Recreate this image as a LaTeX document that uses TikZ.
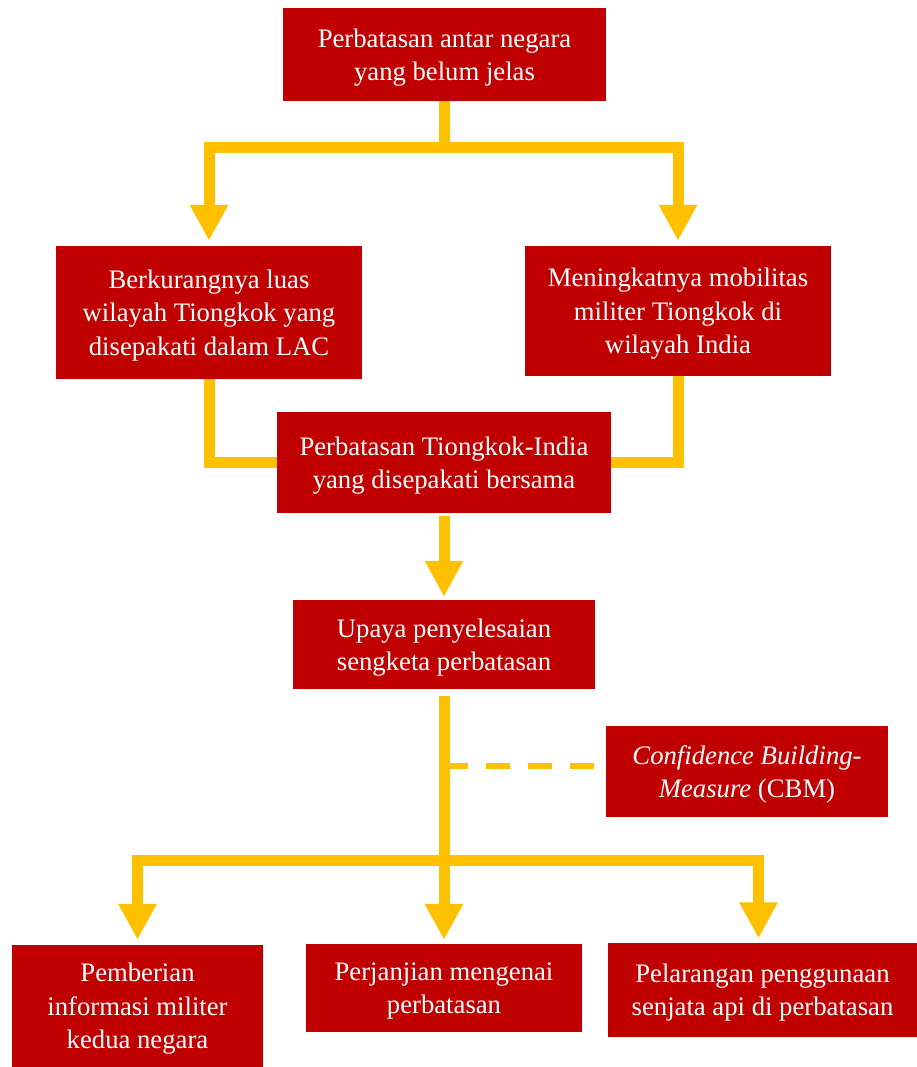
\documentclass[tikz,border=0pt]{standalone}
\usepackage{fontspec}
\setmainfont{Liberation Serif}
\usepackage{tikz}
\usetikzlibrary{arrows.meta}
\definecolor{boxred}{HTML}{C00000}
\definecolor{linkyellow}{HTML}{FFC000}
\tikzstyle{block} = [rectangle, fill=boxred, text=white, align=center, inner sep=0pt, text depth=0pt]
\tikzstyle{link} = [draw=linkyellow, line width=11pt]
\tikzstyle{arrow} = [link, -{Triangle[width=36pt,length=36pt]}]
\tikzstyle{dashlink} = [draw=linkyellow, line width=5.5pt, dash pattern=on 24pt off 18pt]

\begin{document}
\begin{tikzpicture}[x=1pt, y=-1pt, every node/.style={font=\fontsize{26.7}{33.4}\selectfont}]
  \useasboundingbox (0,0) rectangle (917,1067);
  \node[block, minimum width=323pt, minimum height=93pt] (top) at (444.5,54.5) {Perbatasan antar negara\\yang belum jelas};
  \node[block, minimum width=306pt, minimum height=133pt] (luas) at (209,312.5) {Berkurangnya luas\\wilayah Tiongkok yang\\disepakati dalam LAC};
  \node[block, minimum width=306pt, minimum height=130pt] (mobil) at (678,311) {Meningkatnya mobilitas\\militer Tiongkok di\\wilayah India};
  \node[block, minimum width=334pt, minimum height=101pt] (sepakat) at (444,462.5) {Perbatasan Tiongkok-India\\yang disepakati bersama};
  \node[block, minimum width=302pt, minimum height=89pt] (upaya) at (444,644.5) {Upaya penyelesaian\\sengketa perbatasan};
  \node[block, minimum width=282pt, minimum height=91pt] (cbm) at (747,771.5) {\textit{Confidence Building-}\\\textit{Measure} (CBM)};
  \node[block, minimum width=251pt, minimum height=122pt] (info) at (137.5,1006) {Pemberian\\informasi militer\\kedua negara};
  \node[block, minimum width=276pt, minimum height=88pt] (janji) at (444,988) {Perjanjian mengenai\\perbatasan};
  \node[block, minimum width=309pt, minimum height=94pt] (larang) at (762.5,989.5) {Pelarangan penggunaan\\senjata api di perbatasan};

  \coordinate (j1) at (444.5,148);
  \coordinate (j2) at (444,860);
  \coordinate (d1) at (444,766);

  \draw[link] (top.south) -- (j1);
  \draw[arrow, shorten >=5pt] (j1) -| (luas.north);
  \draw[arrow, shorten >=5pt] (j1) -| (mobil.north);
  \draw[link] (luas.south) |- (sepakat.west);
  \draw[link] (mobil.south) |- (sepakat.east);
  \draw[arrow, shorten <=3pt, shorten >=3pt] (sepakat.south) -- (upaya.north);
  \draw[arrow, shorten <=7pt, shorten >=4pt] (upaya.south) -- (janji.north);
  \draw[arrow, shorten >=5pt] (j2) -| (info.north);
  \draw[arrow, shorten >=4pt] (j2) -| ([xshift=-4pt]larang.north);
  \draw[dashlink, shorten >=9pt] (d1) -- (d1 -| cbm.west);
\end{tikzpicture}
\end{document}
